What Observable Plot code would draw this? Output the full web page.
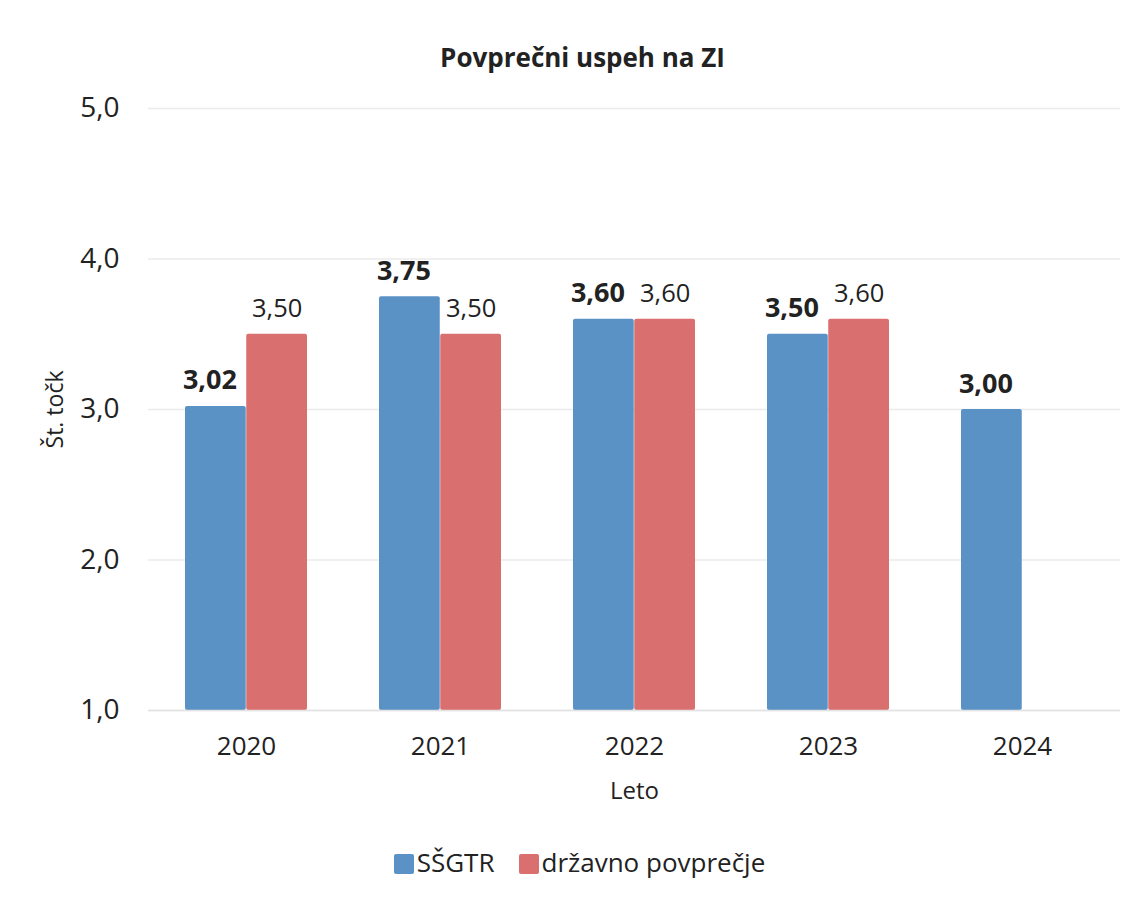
<!DOCTYPE html>
<html>
<head>
<meta charset="utf-8">
<script src="https://cdn.jsdelivr.net/npm/d3@7"></script>
<script src="https://cdn.jsdelivr.net/npm/@observablehq/plot@0.6"></script>
<style>
  body { margin: 0; background: #fff; font-family: "Open Sans", sans-serif; }
  #title { height: 80px; box-sizing: border-box; padding-top: 42px; line-height: 30px; text-align: center; font-weight: bold; font-size: 26px; color: #222; padding-left: 26px; }
  #legend { display: flex; justify-content: center; gap: 24px; font-size: 26px; line-height: 32px; color: #222; margin-top: 16px; padding-left: 20px; }
  #legend span.sw { display: inline-block; width: 20px; height: 20px; margin-right: 3px; vertical-align: -2px; border-radius: 2px; }
</style>
</head>
<body>
<div id="title">Povprečni uspeh na ZI</div>
<div id="chart"></div>
<div id="legend"></div>
<script>
const years = ["2020", "2021", "2022", "2023", "2024"];
const series = ["SŠGTR", "državno povprečje"];
const school = [3.02, 3.75, 3.60, 3.50, 3.00];
const national = [3.50, 3.50, 3.60, 3.60, null];
const colors = ["#5b92c6", "#d96f6e"];
const yTicks = [1, 2, 3, 4, 5];

const W = 1139, H = 750, ML = 148, MR = 19, MT = 28, MB = 120;
const padInner = 0.37, padOuter = 0.185;
// bandwidth of the x band scale (same settings as Plot's), used to split each band into two bars
const bw = d3.scaleBand(years, [ML, W - MR]).paddingInner(padInner).paddingOuter(padOuter).bandwidth();

const schoolData = years.map((y, i) => ({year: y, value: school[i]}));
const nationalData = years.map((y, i) => ({year: y, value: national[i]})).filter(d => d.value != null);
const fmt = v => d3.format(".2f")(v).replace(".", ",");

const chart = Plot.plot({
  width: W,
  height: H,
  marginLeft: ML,
  marginRight: MR,
  marginTop: MT,
  marginBottom: MB,
  style: {fontFamily: "Open Sans, sans-serif", color: "#222", background: "#fff"},
  y: {domain: [1, 5]},
  x: {domain: years, paddingInner: padInner, paddingOuter: padOuter},
  marks: [
    Plot.gridY(yTicks, {stroke: "#ebebeb", strokeOpacity: 1, strokeWidth: 1.5}),
    Plot.axisY(yTicks, {tickSize: 0, tickPadding: 29, fontSize: 28, tickFormat: d => d3.format(".1f")(d).replace(".", ","),
      label: null}),
    Plot.text(["Št. točk"], {frameAnchor: "left", textAnchor: "middle", rotate: -90, dx: -93, fontSize: 23, fill: "#222"}),
    Plot.axisX({anchor: "bottom", tickSize: 0, tickPadding: 26, fontSize: 26, label: null}),
    Plot.text(["Leto"], {frameAnchor: "bottom", lineAnchor: "bottom", dy: 88, fontSize: 24, fill: "#222"}),
    Plot.barY(schoolData, {x: "year", y1: 1, y2: "value", fill: colors[0], insetRight: bw / 2, rx: 2}),
    Plot.barY(nationalData, {x: "year", y1: 1, y2: "value", fill: colors[1], insetLeft: bw / 2, rx: 2}),
    Plot.ruleY([1], {stroke: "#e2e2e2", strokeWidth: 1.5}),
    Plot.text(schoolData, {x: "year", y: "value", text: d => fmt(d.value), dx: -bw / 4 - 6, dy: -17, lineAnchor: "bottom", fontSize: 27, fontWeight: "bold", fill: "#222"}),
    Plot.text(nationalData, {x: "year", y: "value", text: d => fmt(d.value), dx: bw / 4, dy: -17, lineAnchor: "bottom", fontSize: 25.5, fill: "#222"})
  ]
});
document.getElementById("chart").appendChild(chart);

const legend = document.getElementById("legend");
series.forEach((s, i) => {
  const item = document.createElement("div");
  item.innerHTML = `<span class="sw" style="background:${colors[i]}"></span>${s}`;
  legend.appendChild(item);
});
</script>
</body>
</html>
